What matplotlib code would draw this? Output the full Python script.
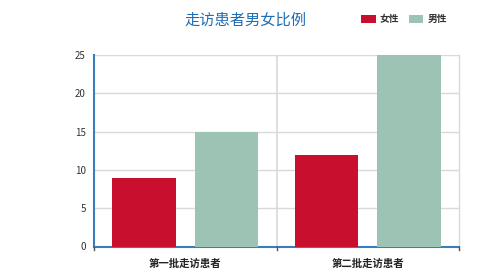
import matplotlib
matplotlib.use("Agg")
import matplotlib.pyplot as plt
import numpy as np
from matplotlib.patches import Patch

plt.rcParams['font.family'] = ['Noto Sans CJK SC', 'DejaVu Sans']

categories = ['第一批走访患者', '第二批走访患者']
female = [9, 12]
male = [15, 25]
series_names = ['女性', '男性']
y_ticks = [0, 5, 10, 15, 20, 25]
title = '走访患者男女比例'

red = '#C8102E'
green = '#9DC3B5'
axis_blue = '#3A7DBE'
grid_gray = '#D9D9D9'

fig = plt.figure(figsize=(4.79, 2.80), dpi=100)
ax = fig.add_axes([94/479, 1 - 246.5/280, (459 - 94)/479, (246.5 - 55)/280])

x = np.arange(len(categories))
w = 0.35
off = 0.226
ax.bar(x - off, female, width=w, color=red, zorder=3)
ax.bar(x + off, male, width=w, color=green, zorder=3)

ax.set_xlim(-0.5, len(categories) - 0.5)
ax.set_ylim(0, 25)
ax.set_yticks(y_ticks)
ax.set_xticks(x)
ax.set_xticklabels(categories, fontsize=7.5, fontweight='bold', color='#222222')
ax.tick_params(axis='x', length=0, pad=9)
ax.tick_params(axis='y', length=0, labelsize=7, colors='#333333', pad=6)

# horizontal grid and category separators
ax.grid(axis='y', color=grid_gray, linewidth=1, zorder=0)
for b in np.arange(-0.5, len(categories), 1.0):
    if -0.5 < b < len(categories) - 0.5:
        ax.axvline(b, color=grid_gray, linewidth=1.2, zorder=0)
    ax.plot([b, b], [0, -0.5], color='#555555', linewidth=1, clip_on=False, zorder=4)

ax.spines['top'].set_visible(False)
ax.spines['right'].set_color(grid_gray)
ax.spines['right'].set_linewidth(1)
ax.spines['left'].set_color(axis_blue)
ax.spines['left'].set_linewidth(1.5)
ax.spines['bottom'].set_color(axis_blue)
ax.spines['bottom'].set_linewidth(1.5)

fig.text(245/479, 1 - 20/280, title, ha='center', va='center',
         fontsize=11, color='#1F6DB5')

handles = [Patch(facecolor=red, label=series_names[0]),
           Patch(facecolor=green, label=series_names[1])]
leg = fig.legend(handles=handles, loc='center', bbox_to_anchor=(404/479, 1 - 19/280),
                 ncol=2, frameon=False, fontsize=7, handlelength=1.5, handleheight=0.9,
                 handletextpad=0.4, columnspacing=1.0, labelcolor='#333333',
                 prop={'weight': 'bold', 'size': 7})

fig.savefig('out.png', dpi=100)
